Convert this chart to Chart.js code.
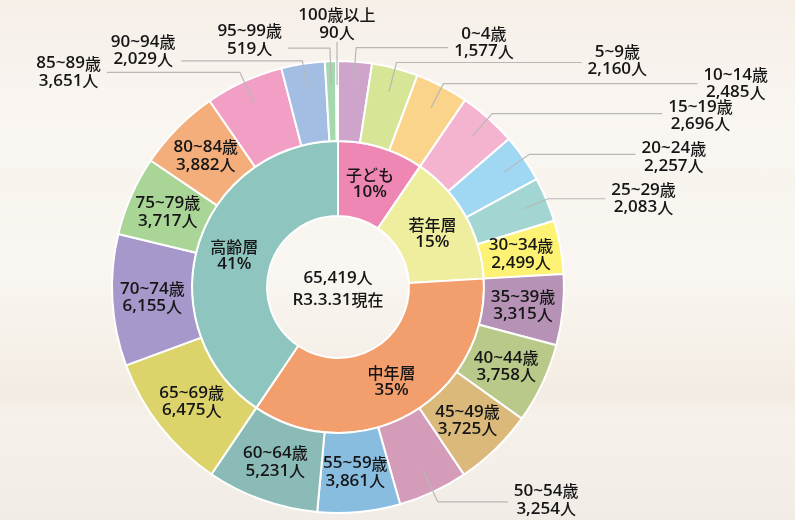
<!DOCTYPE html>
<html lang="ja">
<head>
<meta charset="utf-8">
<script src="https://cdn.jsdelivr.net/npm/chart.js@4"></script>
<style>
  html, body { margin: 0; padding: 0; }
  body {
    width: 795px; height: 520px; overflow: hidden;
    background:
      linear-gradient(to bottom, rgba(255,255,255,0) 0%, rgba(255,255,255,0.35) 30%, rgba(255,255,255,0) 34%, rgba(255,255,255,0.3) 52%, rgba(255,255,255,0) 58%, rgba(236,224,210,0.35) 76%, rgba(255,255,255,0) 80%),
      linear-gradient(to bottom, #f6efe8 0%, #f8f4ee 40%, #f7f3ec 70%, #f2ece6 100%);
  }
  #wrap { position: absolute; left: 0; top: 0; width: 795px; height: 520px; }
</style>
</head>
<body>
<div id="wrap"><canvas id="c" width="795" height="520"></canvas></div>
<script>
// ---- data ----
const ageLabels = ['0~4歳','5~9歳','10~14歳','15~19歳','20~24歳','25~29歳','30~34歳','35~39歳','40~44歳','45~49歳','50~54歳','55~59歳','60~64歳','65~69歳','70~74歳','75~79歳','80~84歳','85~89歳','90~94歳','95~99歳','100歳以上'];
const ageValues = [1577,2160,2485,2696,2257,2083,2499,3315,3758,3725,3254,3861,5231,6475,6155,3717,3882,3651,2029,519,90];
const groupLabels = ['子ども','若年層','中年層','高齢層'];
const groupValues = [6222,9535,23144,26518];
const centerNote = 'R3.3.31現在';

// ---- styles ----
const ageColors = ['#cfa4ca','#d7e596','#fbd48b','#f4b4d0','#a0d8f4','#a3d6d2','#fef275','#b592b6','#b9c98a','#dab97b','#d49cb8','#88bde0','#8bbbb7','#dcd46b','#a698ca','#a9d597','#f4ae7b','#f19fc5','#a4bee3','#a6d8ae','#f3efcf'];
const groupColors = ['#ef87b4','#eeee9e','#f39e6d','#8ec6bf'];
const LATIN_FONT = '600 17px "Open Sans", "Noto Sans", sans-serif';
const CJK_FONT = '500 16px "Noto Sans CJK JP", sans-serif';
// callout layout for outer labels drawn outside: index -> [elbow radius, horizontal length, text dy]
const callouts = {
  0: [240, 92, -5], 1: [232, 185, -2], 2: [229, 254, 0], 3: [232, 170, 2],
  4: [233, 106, 3], 5: [228, 57, 0], 10: [237, 70, -2], 17: [236, 133, 0],
  18: [229, 121, -10], 19: [239, 42, -8], 20: [245, 0, -18]
};

const total = ageValues.reduce((a, b) => a + b, 0);
const fmt = v => v.toLocaleString('en-US');

function runs(text) {
  const out = [];
  for (const ch of text) {
    const cjk = /[\u3000-\u9fff\uff00-\uffef]/.test(ch);
    if (out.length && out[out.length - 1].cjk === cjk) out[out.length - 1].t += ch;
    else out.push({ t: ch, cjk });
  }
  return out;
}
function measureMixed(ctx, text) {
  let w = 0;
  for (const r of runs(text)) { ctx.font = r.cjk ? CJK_FONT : LATIN_FONT; w += ctx.measureText(r.t).width; }
  return w;
}
function drawMixed(ctx, text, cx, cy) {
  const w = measureMixed(ctx, text);
  let x = cx - w / 2;
  ctx.textAlign = 'left';
  for (const r of runs(text)) {
    ctx.font = r.cjk ? CJK_FONT : LATIN_FONT;
    ctx.fillText(r.t, x, cy);
    x += ctx.measureText(r.t).width;
  }
}

const labelPlugin = {
  id: 'labels',
  afterDatasetsDraw(chart) {
    const ctx = chart.ctx;
    ctx.save();
    ctx.fillStyle = '#161616';
    ctx.textBaseline = 'middle';
    const lh = 17.5;
    const two = (a, b, x, y) => { drawMixed(ctx, a, x, y - lh / 2); drawMixed(ctx, b, x, y + lh / 2); };

    // inner ring
    chart.getDatasetMeta(1).data.forEach((arc, i) => {
      const p = arc.tooltipPosition();
      const pct = Math.round(groupValues[i] / total * 100) + '%';
      two(groupLabels[i], pct, p.x, p.y);
    });

    // outer ring
    chart.getDatasetMeta(0).data.forEach((arc, i) => {
      const t1 = ageLabels[i], t2 = fmt(ageValues[i]) + '人';
      if (callouts[i]) {
        const [er, hl, dy] = callouts[i];
        const {x, y, startAngle, endAngle, innerRadius, outerRadius} =
          arc.getProps(['x','y','startAngle','endAngle','innerRadius','outerRadius'], true);
        const a = (startAngle + endAngle) / 2;
        const r0 = innerRadius + 0.7 * (outerRadius - innerRadius);
        const sx = x + Math.cos(a) * r0, sy = y + Math.sin(a) * r0;
        const ex = x + Math.cos(a) * er, ey = y + Math.sin(a) * er;
        const dir = Math.cos(a) >= 0 ? 1 : -1;
        const lx = ex + dir * hl;
        ctx.strokeStyle = '#b8b8b8';
        ctx.lineWidth = 1.2;
        ctx.beginPath();
        ctx.moveTo(sx, sy); ctx.lineTo(ex, ey); ctx.lineTo(lx, ey);
        ctx.stroke();
        const w = Math.max(measureMixed(ctx, t1), measureMixed(ctx, t2));
        let cx, cy;
        if (hl === 0) { cx = ex; cy = ey + dy; }
        else { cx = lx + dir * (6 + w / 2); cy = ey + dy; }
        two(t1, t2, cx, cy);
      } else {
        const p = arc.tooltipPosition();
        two(t1, t2, p.x, p.y);
      }
    });

    // center
    const m = chart.getDatasetMeta(0).data[0];
    drawMixed(ctx, fmt(total) + '人', m.x, m.y - 9);
    drawMixed(ctx, centerNote, m.x, m.y + 13);
    ctx.restore();
  }
};

new Chart(document.getElementById('c'), {
  type: 'doughnut',
  data: {
    labels: ageLabels,
    datasets: [
      { data: ageValues, backgroundColor: ageColors, borderColor: '#ffffff', borderWidth: 2, weight: 80 },
      { data: groupValues, backgroundColor: groupColors, borderColor: '#ffffff', borderWidth: 2, weight: 75 }
    ]
  },
  options: {
    responsive: false,
    animation: false,
    cutout: '31.4%',
    layout: { padding: { left: 111, right: 230, top: 60, bottom: 6 } },
    plugins: { legend: { display: false }, tooltip: { enabled: false } }
  },
  plugins: [labelPlugin]
});
</script>
</body>
</html>
